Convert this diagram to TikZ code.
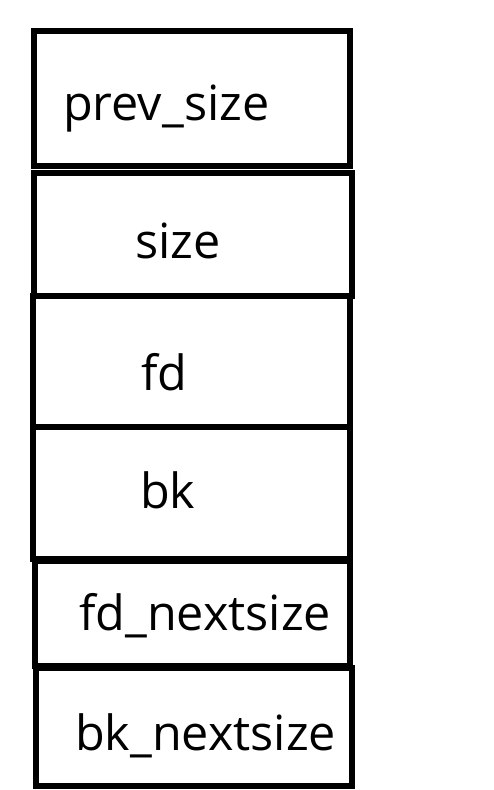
\documentclass[tikz,border=0pt]{standalone}
\usepackage{fontspec}
\setmainfont{Open Sans}
\begin{document}
\begin{tikzpicture}[x=1pt,y=-1pt,
  cell/.style={draw=black,line width=6pt},
  lbl/.style={anchor=base west,inner sep=0pt,font=\fontsize{48.5}{58}\selectfont}]
\useasboundingbox (0,0) rectangle (494,790);
\draw[cell] (34,31) rectangle (350,166);
\draw[cell] (34,173) rectangle (352,296);
\draw[cell] (33,296) rectangle (350,427);
\draw[cell] (33,427) rectangle (350,559);
\draw[cell] (35,561) rectangle (350,666);
\draw[cell] (36,668) rectangle (352,786);
\node[lbl] (t1) at (63,120) {prev\_size};
\node[lbl] (t2) at (135,258) {size};
\node[lbl] (t3) at (141,390) {fd};
\node[lbl] (t4) at (140,508) {bk};
\node[lbl] (t5) at (79,630) {fd\_nextsize};
\node[lbl] (t6) at (75,750) {bk\_nextsize};
\end{tikzpicture}
\end{document}
